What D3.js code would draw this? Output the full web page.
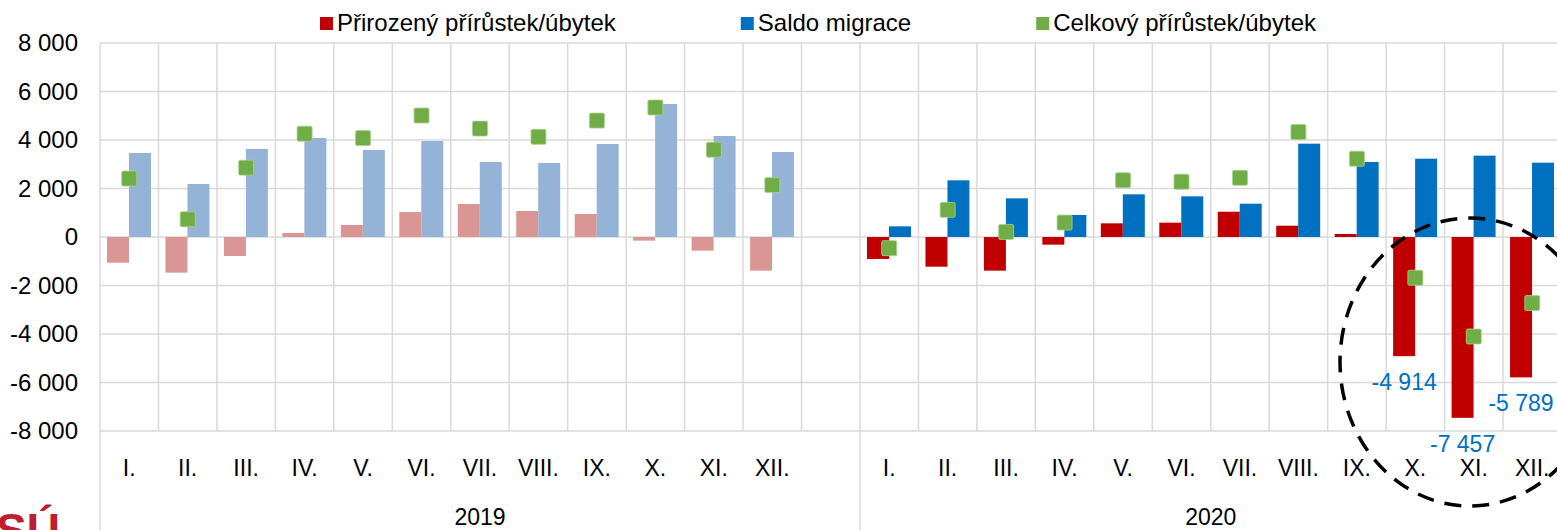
<!DOCTYPE html>
<html><head><meta charset="utf-8">
<script src="https://cdn.jsdelivr.net/npm/d3@7"></script>
<style>
html,body{margin:0;padding:0;background:#fff;}
svg{display:block;font-family:"Liberation Sans",Arial,sans-serif;}
</style></head>
<body>
<svg id="chart" width="1557" height="530"></svg>
<script>
// ---- data ----
const months = ["I.","II.","III.","IV.","V.","VI.","VII.","VIII.","IX.","X.","XI.","XII."];
const years = ["2019","2020"];
const natural2019 = [-1060,-1470,-783,165,495,1031,1361,1072,948,-151,-563,-1388];
const migration2019 = [3464,2186,3629,4082,3588,3959,3093,3052,3835,5485,4165,3505];
const total2019 = [2410,730,2860,4260,4080,5010,4470,4130,4800,5340,3600,2140];
const natural2020 = [-907,-1224,-1388,-316,564,591,1043,466,124,-4914,-7457,-5789];
const migration2020 = [440,2337,1595,907,1760,1677,1373,3848,3093,3230,3354,3065];
const total2020 = [-460,1120,210,595,2340,2280,2440,4330,3230,-1680,-4103,-2725];
const labelledMonths2020 = ["X.","XI.","XII."];
const yTicks = [-8000,-6000,-4000,-2000,0,2000,4000,6000,8000];
const seriesNames = ["Přirozený přírůstek/úbytek","Saldo migrace","Celkový přírůstek/úbytek"];

(function(){
// ---- build rows ----
const rows = [];
months.forEach((m,i)=>rows.push({key:"2019-"+m, month:m, year:"2019", nat:natural2019[i], mig:migration2019[i], tot:total2019[i]}));
rows.push({key:"2019-gap", month:"", year:"2019", gap:true});
months.forEach((m,i)=>rows.push({key:"2020-"+m, month:m, year:"2020", nat:natural2020[i], mig:migration2020[i], tot:total2020[i]}));

const colors = {
  "2019": {nat:"#DA9694", mig:"#95B3D7"},
  "2020": {nat:"#C00000", mig:"#0070C0"}
};
const green = "#70AD47";
const grid = "#D9D9D9";
const FS = 23, FSL = 24;

const svg = d3.select("#chart");
const pLeft = 100, pRight = 1561.5, pTop = 43, pBottom = 431;

const x = d3.scaleBand().domain(rows.map(d=>d.key)).range([pLeft,pRight]).padding(0);
const y = d3.scaleLinear().domain([-8000,8000]).range([pBottom,pTop]);
const bw = x.bandwidth();
const fmt = d3.formatLocale({decimal:",",thousands:"\u00a0",grouping:[3],currency:["",""],minus:"-"}).format(",d");

// horizontal gridlines
svg.append("g").selectAll("line").data(yTicks).join("line")
  .attr("x1",pLeft).attr("x2",pRight)
  .attr("y1",d=>y(d)).attr("y2",d=>y(d))
  .attr("stroke",grid).attr("stroke-width",1.5);
// vertical gridlines at band boundaries
const bounds = rows.map(d=>x(d.key)).concat([pRight]);
svg.append("g").selectAll("line").data(bounds).join("line")
  .attr("x1",d=>d).attr("x2",d=>d)
  .attr("y1",pTop).attr("y2",pBottom)
  .attr("stroke",grid).attr("stroke-width",1.5);
// year separators below axis
const yearBounds = [x("2019-I."), x("2020-I."), pRight];
svg.append("g").selectAll("line").data(yearBounds).join("line")
  .attr("x1",d=>d).attr("x2",d=>d)
  .attr("y1",pBottom).attr("y2",530)
  .attr("stroke",grid).attr("stroke-width",1.5);

// y tick labels
svg.append("g").selectAll("text").data(yTicks).join("text")
  .attr("x",78).attr("y",d=>y(d)).attr("dy","0.35em")
  .attr("text-anchor","end").attr("font-size",FSL).attr("fill","#000")
  .text(d=>fmt(d));

// bars
const data = rows.filter(d=>!d.gap);
const barW = bw*0.376, off = bw*0.12;
svg.append("g").selectAll("rect").data(data).join("rect")
  .attr("x",d=>x(d.key)+off).attr("width",barW)
  .attr("y",d=>y(Math.max(0,d.nat))).attr("height",d=>Math.abs(y(d.nat)-y(0)))
  .attr("fill",d=>colors[d.year].nat);
svg.append("g").selectAll("rect").data(data).join("rect")
  .attr("x",d=>x(d.key)+off+barW).attr("width",barW)
  .attr("y",d=>y(Math.max(0,d.mig))).attr("height",d=>Math.abs(y(d.mig)-y(0)))
  .attr("fill",d=>colors[d.year].mig);

// total markers
const ms = 15;
svg.append("g").selectAll("rect").data(data).join("rect")
  .attr("x",d=>x(d.key)+bw/2-ms/2).attr("y",d=>y(d.tot)-ms/2)
  .attr("width",ms).attr("height",ms).attr("rx",1.5)
  .attr("fill",green).attr("stroke","#A9D18E").attr("stroke-width",0.8);

// data labels
svg.append("g").selectAll("text")
  .data(data.filter(d=>d.year==="2020" && labelledMonths2020.includes(d.month))).join("text")
  .attr("x",d=>x(d.key)+off+barW/2).attr("y",d=>y(d.nat)+34)
  .attr("text-anchor","middle").attr("font-size",FS).attr("fill","#0070C0")
  .text(d=>fmt(d.nat));

// month labels
svg.append("g").selectAll("text").data(rows).join("text")
  .attr("x",d=>x(d.key)+bw/2).attr("y",476)
  .attr("text-anchor","middle").attr("font-size",FS).attr("fill","#000")
  .text(d=>d.month);
// year labels
svg.append("g").selectAll("text").data(years).join("text")
  .attr("x",(d,i)=>(yearBounds[i]+yearBounds[i+1])/2).attr("y",525)
  .attr("text-anchor","middle").attr("font-size",FS).attr("fill","#000")
  .text(d=>d);

// legend
const legendColors = ["#C00000","#0070C0",green];
let lx = 320;
const lg = svg.append("g");
seriesNames.forEach((name,i)=>{
  lg.append("rect").attr("x",lx).attr("y",17).attr("width",13).attr("height",13).attr("fill",legendColors[i]);
  const t = lg.append("text").attr("x",lx+17).attr("y",31).attr("font-size",FSL).attr("fill","#000").text(name);
  lx += 17 + t.node().getComputedTextLength() + 125;
});

// dashed highlight ellipse
svg.append("ellipse").attr("cx",1470).attr("cy",362).attr("rx",130).attr("ry",144)
  .attr("fill","none").attr("stroke","#000").attr("stroke-width",3.5)
  .attr("stroke-dasharray","17 11");

// logo fragment (cut off at the bottom edge, as in the source image)
svg.append("text").attr("x",-4).attr("y",546).attr("font-size",46).attr("font-weight","bold")
  .attr("fill","#BE1E2D").text("SÚ");
})();
</script>
</body></html>
